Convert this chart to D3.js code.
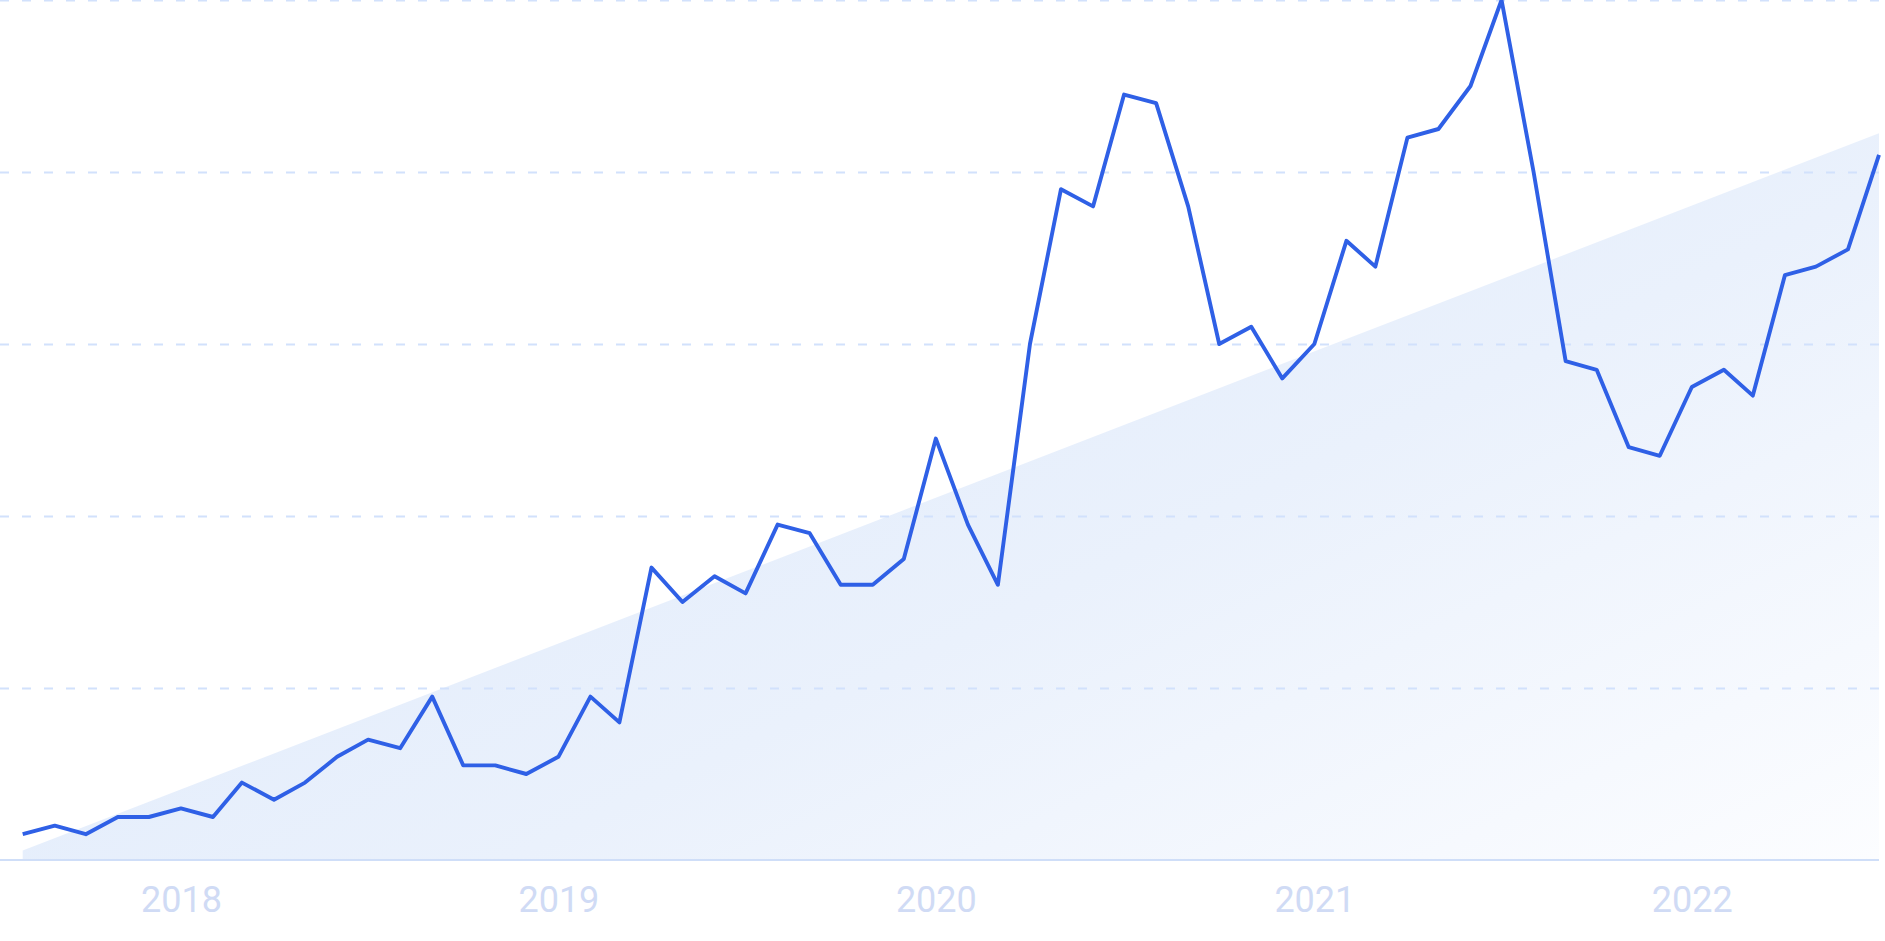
<!DOCTYPE html>
<html>
<head>
<meta charset="utf-8">
<script src="https://cdn.jsdelivr.net/npm/d3@7"></script>
<style>
  html, body { margin: 0; padding: 0; background: #ffffff; }
  svg { display: block; }
</style>
</head>
<body>
<svg id="chart" width="1885" height="941"></svg>
<script>
// ---- data ----
const startMonth = "2017-08";
const values = [3,4,3,5,5,6,5,9,7,9,12,14,13,19,11,11,10,12,19,16,
                34,30,33,31,39,38,32,32,35,49,39,32,60,78,76,89,88,76,60,62,
                56,60,72,69,84,85,90,100,80,58,57,48,47,55,57,54,68,69,71,82];
const trendValues = [1.1, 84.5];          // trend line at first / last month
const yTicks = [20, 40, 60, 80, 100];
const yearLabels = ["2018", "2019", "2020", "2021", "2022"];

// ---- setup ----
const plotLeft = 22.7, plotRight = 1879, plotTop = 0, plotBottom = 860;
const parse = d3.timeParse("%Y-%m");
const t0 = parse(startMonth);
const dates = values.map((_, i) => d3.timeMonth.offset(t0, i));
const data = values.map((v, i) => ({date: dates[i], value: v}));

const x = d3.scaleTime().domain([dates[0], dates[dates.length - 1]]).range([plotLeft, plotRight]);
const y = d3.scaleLinear().domain([0, 100]).range([plotBottom, plotTop]);

const svg = d3.select("#chart");
const defs = svg.append("defs");
const grad = defs.append("linearGradient")
  .attr("id", "trendFill")
  .attr("x1", "0").attr("y1", "0.2").attr("x2", "1").attr("y2", "1");
grad.append("stop").attr("offset", "0").attr("stop-color", "#dde9fb");
grad.append("stop").attr("offset", "0.55").attr("stop-color", "#eaf1fc");
grad.append("stop").attr("offset", "1").attr("stop-color", "#fcfdff");

// trend area
const trendData = [
  {date: dates[0], value: trendValues[0]},
  {date: dates[dates.length - 1], value: trendValues[1]}
];
svg.append("path")
  .datum(trendData)
  .attr("fill", "url(#trendFill)")
  .attr("d", d3.area().x(d => x(d.date)).y0(y(0)).y1(d => y(d.value)));

// gridlines
const yAxis = d3.axisLeft(y).tickValues(yTicks).tickSize(0).tickFormat("");
const gGrid = svg.append("g").call(yAxis);
gGrid.select(".domain").remove();
gGrid.selectAll(".tick line")
  .attr("stroke", "#d2e1fc")
  .attr("stroke-width", 1.8)
  .attr("stroke-dasharray", "9,13")
  .attr("x1", 0).attr("x2", plotRight);

// x axis
const yearTicks = yearLabels.map(s => d3.timeParse("%Y")(s));
const xAxis = d3.axisBottom(x).tickValues(yearTicks).tickSize(0).tickFormat(d3.timeFormat("%Y"));
const gX = svg.append("g").attr("transform", `translate(0,${plotBottom})`).call(xAxis);
gX.select(".domain").remove();
gX.append("line")
  .attr("x1", 0).attr("x2", plotRight).attr("y1", 0).attr("y2", 0)
  .attr("stroke", "#cfdef8").attr("stroke-width", 2);
gX.selectAll(".tick text")
  .attr("y", 52)
  .attr("dy", null)
  .attr("fill", "#d0dbf5")
  .attr("font-family", "Roboto, 'Open Sans', sans-serif")
  .attr("font-size", 36);

// line
svg.append("path")
  .datum(data)
  .attr("fill", "none")
  .attr("stroke", "#2f60e6")
  .attr("stroke-width", 3.9)
  .attr("stroke-linejoin", "round")
  .attr("d", d3.line().x(d => x(d.date)).y(d => y(d.value)));
</script>
</body>
</html>
